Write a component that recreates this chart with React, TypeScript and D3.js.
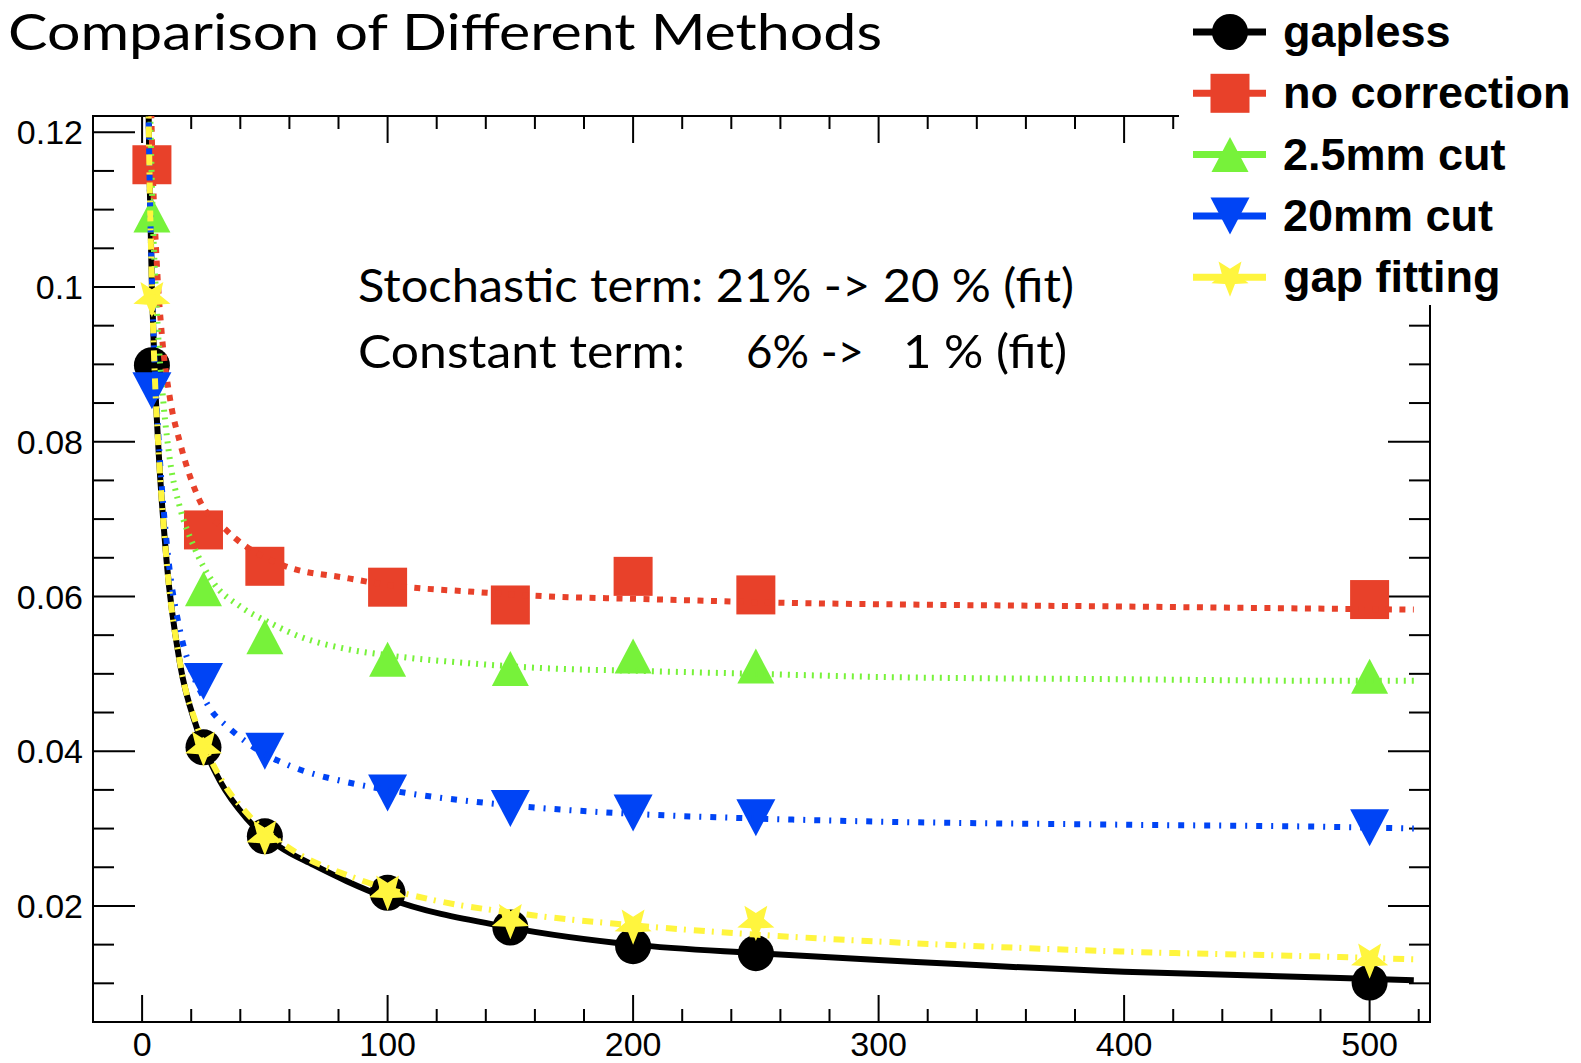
import React from 'react';
import * as d3 from 'd3';

// ---------- data ----------
const energies = [4, 25, 50, 100, 150, 200, 250, 500];
const gapless = [0.0899, 0.0405, 0.029, 0.0217, 0.0172, 0.0148, 0.0139, 0.0101];
const noCorrection = [0.1158, 0.0686, 0.0639, 0.0612, 0.0589, 0.0626, 0.0602, 0.0596];
const cut25mm = [0.1093, 0.061, 0.0548, 0.0519, 0.0507, 0.0523, 0.051, 0.0497];
const cut20mm = [0.0866, 0.049, 0.04, 0.0346, 0.0326, 0.032, 0.0314, 0.0301];
const gapFitting = [0.0986, 0.0405, 0.029, 0.0219, 0.0182, 0.0175, 0.018, 0.0131];

// fit curves
const fitGaplessX = [2.4, 3, 4, 5, 6.6, 10, 15.5, 22.3, 31.8, 42.6, 56.2, 69.8, 83.4, 100, 150, 200, 250, 300, 400, 488, 518];
const fitGaplessY = [0.128, 0.115, 0.1, 0.09, 0.0795, 0.0645, 0.0512, 0.043, 0.0361, 0.0313, 0.0276, 0.0253, 0.0232, 0.021, 0.0172, 0.015, 0.0139, 0.013, 0.0115, 0.0107, 0.0104];
const fitNoCorrX = [2.4, 3, 4, 6, 8, 11.4, 15.5, 23, 34.5, 57.6, 83, 100, 135, 166, 200, 276, 300, 400, 488, 518];
const fitNoCorrY = [0.147, 0.134, 0.119, 0.103, 0.094, 0.0855, 0.0798, 0.0727, 0.0685, 0.064, 0.0624, 0.0615, 0.0606, 0.06, 0.0597, 0.0591, 0.059, 0.0587, 0.0584, 0.0583];
const fitCut25X = [2.4, 3, 4, 6, 8.7, 11.4, 15.5, 20.9, 29, 40, 52, 64.4, 83.4, 100, 132, 166, 200, 250, 300, 400, 488, 518];
const fitCut25Y = [0.141, 0.128, 0.113, 0.097, 0.085, 0.0775, 0.0714, 0.0666, 0.0618, 0.0587, 0.0566, 0.0548, 0.0532, 0.0524, 0.0514, 0.0507, 0.0504, 0.05, 0.0496, 0.0493, 0.0491, 0.0491];
const fitCut20X = [2.4, 3, 4, 5, 6.6, 10, 15.5, 20, 25, 27.7, 35.8, 48, 60.3, 83.4, 100, 150, 200, 250, 300, 400, 488, 518];
const fitCut20Y = [0.128, 0.115, 0.101, 0.091, 0.081, 0.067, 0.0555, 0.0505, 0.047, 0.0455, 0.0429, 0.04, 0.0381, 0.036, 0.035, 0.033, 0.0319, 0.0313, 0.0309, 0.0305, 0.0302, 0.03];
const fitGapFitX = [2.4, 3, 4, 5, 6.6, 10, 15.5, 22.3, 31.8, 42.6, 56.2, 64.4, 83.4, 100, 118, 159, 200, 250, 300, 400, 488, 518];
const fitGapFitY = [0.128, 0.115, 0.1, 0.09, 0.0795, 0.0645, 0.0513, 0.0433, 0.0366, 0.032, 0.0283, 0.0266, 0.024, 0.0222, 0.0208, 0.0188, 0.0175, 0.0163, 0.0154, 0.0141, 0.0134, 0.0131];

const xMajorTicks = [0, 100, 200, 300, 400, 500];
const yMajorTicks = [0.02, 0.04, 0.06, 0.08, 0.1, 0.12];
const yTickLabels = ['0.02', '0.04', '0.06', '0.08', '0.1', '0.12'];

const title = 'Comparison of Different Methods';
const noteLine1 = 'Stochastic term: 21% -> 20 % (fit)';
const noteLine2a = 'Constant term:';
const noteLine2b = '6% ->';
const noteLine2c = '1 % (fit)';

// ---------- layout ----------
const W = 1581;
const H = 1063;
const F = { left: 93, right: 1430, top: 116, bottom: 1022 };
const x = d3.scaleLinear().domain([-20, 524.6]).range([F.left, F.right]);
const y = d3.scaleLinear().domain([0.005, 0.1221]).range([F.bottom, F.top]);

const C = {
  black: '#000000',
  red: '#E8412A',
  green: '#77F23A',
  blue: '#0044F5',
  yellow: '#FFF53E',
};

type Kind = 'circle' | 'square' | 'tri' | 'itri' | 'star';

function Marker({ kind, cx, cy, color }: { kind: Kind; cx: number; cy: number; color: string }) {
  if (kind === 'circle') return <circle cx={cx} cy={cy} r={18} fill={color} />;
  if (kind === 'square') return <rect x={cx - 19.5} y={cy - 19.5} width={39} height={39} fill={color} />;
  if (kind === 'tri') {
    const p = `${cx - 18.5},${cy + 17.5} ${cx + 18.5},${cy + 17.5} ${cx},${cy - 17.5}`;
    return <polygon points={p} fill={color} />;
  }
  if (kind === 'itri') {
    const p = `${cx - 19.5},${cy - 18.5} ${cx + 19.5},${cy - 18.5} ${cx},${cy + 18.5}`;
    return <polygon points={p} fill={color} />;
  }
  // inverted five-point star
  const pts: string[] = [];
  for (let i = 0; i < 10; i++) {
    const r = i % 2 === 0 ? 19.5 : 8.5;
    const a = Math.PI / 2 + (i * Math.PI) / 5;
    pts.push(`${cx + r * Math.cos(a)},${cy + r * Math.sin(a)}`);
  }
  return <polygon points={pts.join(' ')} fill={color} />;
}

const series = [
  { name: 'gapless', vals: gapless, fx: fitGaplessX, fy: fitGaplessY, color: C.black, kind: 'circle' as Kind, dash: undefined as string | undefined },
  { name: 'no correction', vals: noCorrection, fx: fitNoCorrX, fy: fitNoCorrY, color: C.red, kind: 'square' as Kind, dash: '6,7.5' },
  { name: '2.5mm cut', vals: cut25mm, fx: fitCut25X, fy: fitCut25Y, color: C.green, kind: 'tri' as Kind, dash: '2,6' },
  { name: '20mm cut', vals: cut20mm, fx: fitCut20X, fy: fitCut20Y, color: C.blue, kind: 'itri' as Kind, dash: '6,9,2,9' },
  { name: 'gap fitting', vals: gapFitting, fx: fitGapFitX, fy: fitGapFitY, color: C.yellow, kind: 'star' as Kind, dash: '11,7,2,8' },
];

const line = d3
  .line<[number, number]>()
  .x((d) => x(d[0]))
  .y((d) => y(d[1]))
  .curve(d3.curveMonotoneX);

export default function App() {
  const xMinor = d3.range(-20, 521, 20).filter((v) => v % 100 !== 0 && v > -20);
  const yMinor = d3.range(1, 25).map((i) => +(i * 0.005).toFixed(3)).filter((v) => v > 0.005 && Math.round(v * 1000) % 20 !== 0 && v < 0.1221);
  const tickFont = "'Liberation Sans', Arial, Helvetica, sans-serif";
  const calibri = "Lato, 'Open Sans', sans-serif";

  return (
    <svg width={W} height={H} viewBox={`0 0 ${W} ${H}`} style={{ position: 'absolute', left: 0, top: 0, background: '#fff' }}>
      <rect x={0} y={0} width={W} height={H} fill="#fff" />
      <defs>
        <clipPath id="plotClip">
          <rect x={F.left} y={F.top} width={F.right - F.left} height={F.bottom - F.top} />
        </clipPath>
      </defs>

      {/* frame */}
      <rect x={F.left} y={F.top} width={F.right - F.left} height={F.bottom - F.top} fill="none" stroke="#000" strokeWidth={2} />

      {/* x ticks bottom and top */}
      {xMajorTicks.map((v) => (
        <g key={'xm' + v}>
          <line x1={x(v)} x2={x(v)} y1={F.bottom} y2={F.bottom - 27} stroke="#000" strokeWidth={2} />
          <line x1={x(v)} x2={x(v)} y1={F.top} y2={F.top + 27} stroke="#000" strokeWidth={2} />
          <text x={x(v)} y={1056} textAnchor="middle" fontFamily={tickFont} fontSize={34} fill="#000">
            {v}
          </text>
        </g>
      ))}
      {xMinor.map((v) => (
        <g key={'xn' + v}>
          <line x1={x(v)} x2={x(v)} y1={F.bottom} y2={F.bottom - 13} stroke="#000" strokeWidth={2} />
          <line x1={x(v)} x2={x(v)} y1={F.top} y2={F.top + 13} stroke="#000" strokeWidth={2} />
        </g>
      ))}

      {/* y ticks left and right */}
      {yMajorTicks.map((v, i) => (
        <g key={'ym' + v}>
          <line x1={F.left} x2={F.left + 42} y1={y(v)} y2={y(v)} stroke="#000" strokeWidth={2} />
          <line x1={F.right} x2={F.right - 42} y1={y(v)} y2={y(v)} stroke="#000" strokeWidth={2} />
          <text x={83} y={y(v)} dy="0.36em" textAnchor="end" fontFamily={tickFont} fontSize={34} fill="#000">
            {yTickLabels[i]}
          </text>
        </g>
      ))}
      {yMinor.map((v) => (
        <g key={'yn' + v}>
          <line x1={F.left} x2={F.left + 21} y1={y(v)} y2={y(v)} stroke="#000" strokeWidth={2} />
          <line x1={F.right} x2={F.right - 21} y1={y(v)} y2={y(v)} stroke="#000" strokeWidth={2} />
        </g>
      ))}

      {/* data */}
      <g clipPath="url(#plotClip)">
        {series.map((s) => (
          <g key={s.name}>
            {s.vals.map((v, i) => (
              <Marker key={i} kind={s.kind} cx={x(energies[i])} cy={y(v)} color={s.color} />
            ))}
            <path
              d={line(s.fx.map((xv, i) => [xv, s.fy[i]] as [number, number])) || ''}
              fill="none"
              stroke={s.color}
              strokeWidth={6}
              strokeDasharray={s.dash}
            />
          </g>
        ))}
      </g>

      {/* annotation */}
      <text x={358} y={302} fontFamily={calibri} fontSize={47} fill="#000" textLength={716} lengthAdjust="spacingAndGlyphs">
        {noteLine1}
      </text>
      <text x={358} y={368} fontFamily={calibri} fontSize={47} fill="#000" textLength={327} lengthAdjust="spacingAndGlyphs">
        {noteLine2a}
      </text>
      <text x={746} y={368} fontFamily={calibri} fontSize={47} fill="#000" textLength={118} lengthAdjust="spacingAndGlyphs">
        {noteLine2b}
      </text>
      <text x={903} y={368} fontFamily={calibri} fontSize={47} fill="#000" textLength={164} lengthAdjust="spacingAndGlyphs">
        {noteLine2c}
      </text>

      {/* title */}
      <text x={8} y={50} fontFamily={calibri} fontSize={50} fill="#000" textLength={874} lengthAdjust="spacingAndGlyphs">
        {title}
      </text>

      {/* legend */}
      <rect x={1179} y={0} width={W - 1179} height={305} fill="#fff" />
      {series.map((s, i) => {
        const cy = 32 + i * 61.3;
        return (
          <g key={'lg' + s.name}>
            <line x1={1193} x2={1266} y1={cy} y2={cy} stroke={s.color} strokeWidth={7} />
            <Marker kind={s.kind} cx={1230} cy={cy} color={s.color} />
            <text x={1283} y={cy + 15} fontFamily={tickFont} fontWeight="bold" fontSize={45} fill="#000">
              {s.name}
            </text>
          </g>
        );
      })}
    </svg>
  );
}
